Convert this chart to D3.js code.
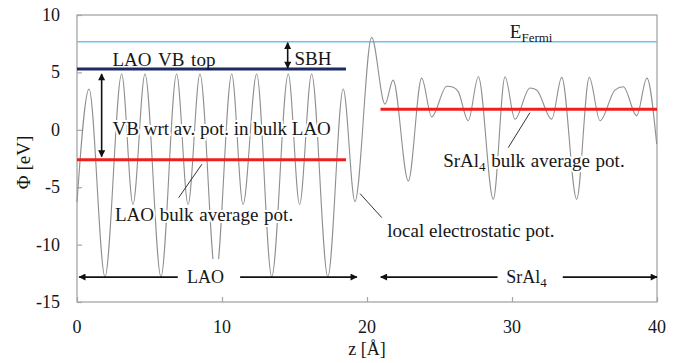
<!DOCTYPE html>
<html lang="en">
<head>
<meta charset="UTF-8">
<title>Potential profile LAO / SrAl4</title>
<script src="https://d3js.org/d3.v7.min.js"></script>
<style>
  body { margin: 0; padding: 0; background: #fff; }
  svg text { font-family: "Liberation Serif", "Times New Roman", Times, serif; fill: #161616; }
  .halo { paint-order: stroke; stroke: #fff; stroke-width: 4px; stroke-linejoin: round; }
</style>
</head>
<body>
<div id="chart"></div>
<script>
  // local electrostatic potential (z in Å, phi in eV)
  const zValues = [0, 0.83, 1.93, 3.08, 3.86, 4.69, 5.79, 6.87, 7.66, 8.48, 9.57, 10.67, 11.45,
    12.39, 13.43, 14.57, 15.35, 16.18, 17.3, 18.36, 19.17, 20.32, 21.24, 21.8, 22.85, 23.77,
    24.46, 25.5, 25.95, 26.3, 26.98, 27.68, 28.71, 29.52, 30.2, 31.24, 31.7, 32.74, 33.43,
    34.46, 35.33, 36.07, 37.1, 37.68, 38.6, 39.3, 39.98];
  const phiValues = [-6.3, 3.55, -12.8, 4.86, -6.5, 4.86, -12.8, 4.86, -6.5, 4.86, -12.8, 4.86, -6.5,
    4.86, -12.8, 4.86, -6.5, 4.86, -12.8, 3.55, -6.25, 8.05, 2.24, 4.33, -4.45, 4.5,
    1.13, 3.8, 3.7, 3.3, 0.79, 4.62, -6.05, 4.62, 0.93, 3.64, 3.46, 0.93, 4.57,
    -6.05, 4.57, 0.79, 3.46, 3.75, 1.22, 4.5, -1.25];

  // reference levels
  const fermiLevel = 7.67;
  const vbTop = 5.29;
  const laoAverage = -2.6;
  const srAverage = 1.8;
  const laoRange = [0, 18.55];
  const srRange = [20.93, 40];

  const xTicks = [0, 10, 20, 30, 40];
  const yTicks = [-15, -10, -5, 0, 5, 10];

  const width = 690, height = 363;
  const margin = { top: 15, right: 33, bottom: 61, left: 77 };

  const svg = d3.select("#chart").append("svg")
    .attr("width", width)
    .attr("height", height);

  const x = d3.scaleLinear().domain([0, 40]).range([margin.left, width - margin.right]);
  const y = d3.scaleLinear().domain([-15, 10]).range([height - margin.bottom, margin.top]);

  const defs = svg.append("defs");
  defs.append("marker")
    .attr("id", "head")
    .attr("viewBox", "0 0 10 10")
    .attr("refX", 9).attr("refY", 5)
    .attr("markerUnits", "userSpaceOnUse")
    .attr("markerWidth", 9).attr("markerHeight", 7)
    .attr("orient", "auto-start-reverse")
    .append("path")
    .attr("d", "M0,0L10,5L0,10z")
    .attr("fill", "#111");

  // frame
  svg.append("rect")
    .attr("x", x(0)).attr("y", y(10))
    .attr("width", x(40) - x(0)).attr("height", y(-15) - y(10))
    .attr("fill", "none").attr("stroke", "#a6a6a6").attr("stroke-width", 1.3);

  // axes (ticks inside)
  const xAxis = svg.append("g")
    .attr("transform", `translate(0,${y(-15)})`)
    .call(d3.axisTop(x).tickValues(xTicks).tickSize(5).tickFormat(""));
  const yAxis = svg.append("g")
    .attr("transform", `translate(${x(0)},0)`)
    .call(d3.axisRight(y).tickValues(yTicks).tickSize(5).tickFormat(""));
  [xAxis, yAxis].forEach(g => {
    g.select(".domain").remove();
    g.selectAll("text").remove();
    g.selectAll("line").attr("stroke", "#a6a6a6").attr("stroke-width", 1.2);
  });

  svg.selectAll(".xlab").data(xTicks).enter().append("text")
    .attr("class", "xlab")
    .attr("x", d => x(d)).attr("y", y(-15) + 31)
    .attr("text-anchor", "middle").attr("font-size", 18)
    .text(d => d);
  svg.selectAll(".ylab").data(yTicks).enter().append("text")
    .attr("class", "ylab")
    .attr("x", 60).attr("y", d => y(d)).attr("dy", "0.33em")
    .attr("text-anchor", "end").attr("font-size", 18)
    .text(d => d);

  svg.append("text")
    .attr("x", (x(0) + x(40)) / 2).attr("y", 355)
    .attr("text-anchor", "middle").attr("font-size", 18)
    .text("z [Å]");
  svg.append("text")
    .attr("transform", `translate(30,${(y(10) + y(-15)) / 2 + 4}) rotate(-90)`)
    .attr("text-anchor", "middle").attr("font-size", 19)
    .text("Φ [eV]");

  // Fermi level
  svg.append("line")
    .attr("x1", x(0)).attr("x2", x(40))
    .attr("y1", y(fermiLevel)).attr("y2", y(fermiLevel))
    .attr("stroke", "#6cc3ea").attr("stroke-width", 1.6);

  // potential curve
  const line = d3.line()
    .x(d => x(d[0]))
    .y(d => y(d[1]))
    .curve(d3.curveMonotoneX);
  svg.append("path")
    .datum(zValues.map((z, i) => [z, phiValues[i]]))
    .attr("d", line)
    .attr("fill", "none")
    .attr("stroke", "#8f8f8f")
    .attr("stroke-width", 1.1);

  // VB top and average lines
  svg.append("line")
    .attr("x1", x(laoRange[0])).attr("x2", x(laoRange[1]))
    .attr("y1", y(vbTop)).attr("y2", y(vbTop))
    .attr("stroke", "#1d2a66").attr("stroke-width", 3);
  svg.append("line")
    .attr("x1", x(laoRange[0])).attr("x2", x(laoRange[1]))
    .attr("y1", y(laoAverage)).attr("y2", y(laoAverage))
    .attr("stroke", "#f01e1e").attr("stroke-width", 3);
  svg.append("line")
    .attr("x1", x(srRange[0])).attr("x2", x(srRange[1]))
    .attr("y1", y(srAverage)).attr("y2", y(srAverage))
    .attr("stroke", "#f01e1e").attr("stroke-width", 3);

  // arrows
  function arrow(x1, y1, x2, y2, both) {
    const l = svg.append("line")
      .attr("x1", x1).attr("y1", y1).attr("x2", x2).attr("y2", y2)
      .attr("stroke", "#111").attr("stroke-width", 1.6)
      .attr("marker-end", "url(#head)");
    if (both) l.attr("marker-start", "url(#head)");
  }
  arrow(x(14.53), y(fermiLevel) + 1, x(14.53), y(vbTop) - 1, true);
  arrow(x(1.7), y(vbTop) + 5, x(1.7), y(laoAverage) - 3, true);

  // leader lines
  function leader(z1, v1, z2, v2) {
    svg.append("line")
      .attr("x1", x(z1)).attr("y1", y(v1)).attr("x2", x(z2)).attr("y2", y(v2))
      .attr("stroke", "#333").attr("stroke-width", 1);
  }
  leader(7.01, -5.91, 8.62, -2.99);
  leader(29.74, -1.56, 31.24, 1.5);
  leader(19.52, -5.56, 21.02, -7.65);

  // region arrows
  const arrowY = y(-12.83);
  arrow(x(6.95), arrowY, x(0.15), arrowY, false);
  arrow(x(11.25), arrowY, x(19.3), arrowY, false);
  arrow(x(29.0), arrowY, x(20.95), arrowY, false);
  arrow(x(33.5), arrowY, x(40), arrowY, false);

  function label(zx, v, str, halo) {
    return svg.append("text")
      .attr("class", halo ? "halo" : null)
      .attr("x", x(zx)).attr("y", y(v))
      .attr("font-size", 19)
      .text(str);
  }
  label(2.45, 5.6, "LAO VB top", false).attr("word-spacing", 2);
  label(15.0, 5.65, "SBH", false);
  label(2.45, -0.45, "VB wrt av. pot. in bulk LAO", true);
  label(2.62, -7.95, "LAO bulk average pot.", true).attr("word-spacing", 1);
  label(21.4, -9.35, "local electrostatic pot.", true);

  const sr = label(25.25, -3.25, "SrAl", true);
  sr.append("tspan").attr("font-size", 13).attr("dy", 4).text("4");
  sr.append("tspan").attr("dy", -4).attr("word-spacing", 1).text(" bulk average pot.");

  const ef = label(29.85, 8.0, "E", false);
  ef.append("tspan").attr("font-size", 13).attr("dy", 4).text("Fermi");

  // region labels on a white box
  svg.append("rect")
    .attr("x", x(7.2)).attr("y", arrowY - 18)
    .attr("width", x(11.05) - x(7.2)).attr("height", 26)
    .attr("fill", "#fff");
  svg.append("text")
    .attr("x", x(8.86)).attr("y", arrowY + 6)
    .attr("text-anchor", "middle").attr("font-size", 18)
    .text("LAO");
  const srLab = svg.append("text")
    .attr("x", x(31.0)).attr("y", arrowY + 6)
    .attr("text-anchor", "middle").attr("font-size", 18)
    .text("SrAl");
  srLab.append("tspan").attr("font-size", 13).attr("dy", 4).text("4");
</script>
</body>
</html>
